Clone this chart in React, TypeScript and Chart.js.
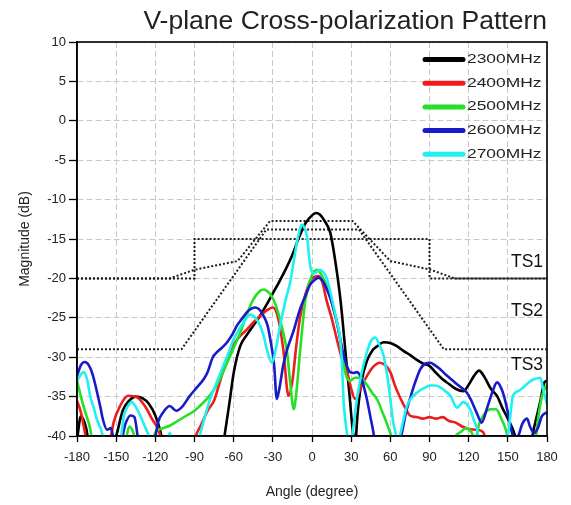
import React, { useEffect, useRef } from 'react';
import { Chart, registerables } from 'chart.js';

Chart.register(...registerables);

const titleText = 'V-plane Cross-polarization Pattern';
const xTitle = 'Angle (degree)';
const yTitle = 'Magnitude (dB)';
const xTickValues = [-180, -150, -120, -90, -60, -30, 0, 30, 60, 90, 120, 150, 180];
const yTickValues = [-40, -35, -30, -25, -20, -15, -10, -5, 0, 5, 10];

const seriesNames = ['2300MHz', '2400MHz', '2500MHz', '2600MHz', '2700MHz'];
const seriesColors = ['#000000', '#ee1c1c', '#25e025', '#1a1ac8', '#20f0f0'];
const maskNames = ['TS1', 'TS2', 'TS3'];

const angles2300 = [-180, -177, -173, -170, -160, -150, -145, -140, -135, -130, -125, -120, -116, -112, -90, -70, -67, -63, -60, -55, -50, -45, -40, -35, -30, -25, -20, -15, -10, -5, 0, 3, 6, 10, 14, 18, 22, 26, 29, 31, 33, 35, 38, 42, 46, 50, 55, 60, 65, 70, 75, 80, 85, 90, 95, 100, 105, 110, 116, 120, 124, 128, 132, 137, 142, 146, 150, 155, 158, 166, 170, 175, 178, 180];
const values2300 = [-40.5, -37.5, -39, -42, -44, -40, -36.8, -35.5, -35, -35.2, -35.9, -37.4, -39.5, -43, -44, -43, -40, -35.5, -32, -28.6, -27.2, -26, -24.8, -23.4, -21.9, -20.4, -18.8, -17, -14.8, -13, -12, -11.7, -11.9, -12.8, -14.2, -18, -23, -30, -35.3, -39, -41, -37, -33, -30.5, -29.2, -28.6, -28.1, -28.2, -28.6, -29.2, -29.7, -30.3, -30.8, -31.1, -32, -32.8, -33.4, -34, -34.3, -33.5, -32.4, -31.7, -32.5, -34, -35, -36.5, -37.8, -39.7, -42, -42, -39, -35.5, -33.2, -33];

const angles2400 = [-180, -177, -174, -171, -160, -155, -152, -147, -141, -134, -128, -122, -117, -114, -100, -92, -89, -85, -80, -75, -70, -65, -60, -55, -50, -45, -40, -35, -30, -26, -22, -18, -15, -12, -9, -5, -1, 5, 8, 11, 15, 19, 23, 27, 30, 33, 37, 42, 47, 52, 56, 60, 64, 68, 72, 75, 80, 85, 90, 95, 100, 105, 110, 115, 120, 125, 131, 134, 140, 180];
const values2400 = [-35.5, -37, -39.5, -42, -44, -41, -38.3, -36.2, -34.9, -35.1, -36.2, -38, -39.5, -42, -44, -42, -40, -38.6, -36.8, -35.5, -32.8, -30.3, -28.4, -27.3, -26.5, -25.6, -24.8, -24.1, -23.7, -25, -29, -34.9, -33, -28.5, -24.8, -22, -20.2, -19.7, -20.5, -22.7, -25, -27.7, -30.2, -32, -34, -35.3, -34, -32.4, -31.2, -30.7, -31, -31.9, -33.8, -35.3, -36.6, -37.4, -37.6, -37.8, -37.6, -37.8, -37.6, -38.1, -38.3, -38.8, -39.1, -39.2, -39.5, -41, -44, -44];

const angles2500 = [-180, -177, -174, -170, -167, -150, -143, -140, -137, -133, -124, -120, -116, -109, -102, -96, -90, -86, -80, -75, -70, -65, -60, -55, -50, -45, -40, -37, -33, -29.5, -26, -22, -19, -16.7, -14, -12, -9, -5, 0, 4, 8, 11.4, 16.5, 21.6, 25.4, 29, 33, 37, 42, 46, 50, 54, 58, 61, 64, 100, 106, 110, 114, 118, 122, 125, 128, 132, 137, 141, 145, 149, 152, 170, 173, 176, 180];
const values2500 = [-33, -35, -36.8, -39, -42, -44, -41, -38.8, -39.5, -42, -42, -39.5, -39.1, -38.7, -38, -37.4, -36.8, -36.2, -35.2, -34.1, -32.6, -30.7, -28.8, -26.9, -24.6, -22.7, -21.6, -21.4, -21.8, -22.7, -24.3, -26.9, -29.5, -33.2, -36.6, -34.5, -29, -22.7, -19.6, -18.9, -19.8, -21, -23.9, -27.7, -31.9, -33, -32.6, -32.6, -33.5, -34.5, -35.4, -37, -38.7, -40.2, -43, -44, -42, -40, -39.5, -39, -39.5, -40.5, -38.5, -37.2, -36.6, -36.6, -37.8, -39.5, -42, -42, -38, -35, -33.5];

const angles2600 = [-180, -177, -174, -171, -168, -165, -162, -160, -157, -154, -151, -147, -143, -139, -136, -133, -128, -121, -118, -114, -109, -104, -99, -94, -88, -83, -80, -76, -73, -69, -65, -61, -57.5, -54, -50, -46, -43.5, -40, -37, -34, -32, -29, -27, -25, -22, -19, -14, -9, -5, -1.4, 2, 5, 8, 11.4, 14, 16.5, 19, 21.6, 24, 26.7, 29.3, 32, 34.4, 38, 42, 45, 47, 49, 65, 69, 72, 75, 79, 83, 87, 90.6, 94, 98, 103, 108, 113, 118.7, 122, 126, 130, 134, 138, 141.7, 144, 147, 150, 152, 155, 158, 161, 164.7, 167, 170, 173, 176, 180];
const values2600 = [-32.4, -31, -30.6, -31, -32.2, -34.2, -36.4, -38, -39.2, -39, -41, -41, -38.5, -37.4, -37.6, -40.5, -42, -41, -38.3, -37, -36.2, -36.8, -36.2, -35, -33.8, -32.8, -31.9, -30, -29.4, -28.8, -28.1, -27.1, -26, -25.2, -24.3, -23.8, -23.7, -24, -24.8, -26, -27.7, -31, -35.3, -34, -31, -29, -26.6, -23.8, -22.2, -20.8, -20.2, -19.9, -20.3, -21.4, -22.5, -23.9, -25.5, -27.7, -29.6, -31.1, -31.9, -32, -31.9, -32.8, -35.3, -37.8, -39.5, -42, -42, -39.5, -37, -35.3, -33.2, -31.5, -30.8, -30.7, -31, -31.5, -32.3, -33, -33.7, -34.5, -35.5, -37, -38.3, -36.5, -34.5, -33.2, -33.6, -34.9, -37, -38.7, -40.5, -40, -38.5, -37.8, -38.8, -39.6, -39, -37.5, -37];

const angles2700 = [-180, -177, -175, -172, -170, -167, -165, -161, -158, -150, -147, -144, -141, -138, -135, -131.6, -128, -125.5, -122, -112, -109, -105, -90, -86, -82, -78, -73, -68, -64, -60, -56, -52.5, -47.4, -44, -39.7, -37, -34.6, -30.7, -28, -24.4, -20, -16.7, -14, -11.6, -9, -7.7, -6, -3.9, -1.4, 1, 3.5, 6.3, 9, 11.4, 14, 16.5, 19, 21.6, 23, 24.1, 25.5, 26.7, 28, 30, 32, 34.4, 38, 42, 45, 48.4, 51, 54.8, 57.5, 60, 62, 63.8, 65.5, 68, 70, 72.7, 76, 80.4, 85, 90.6, 94, 98, 102, 106, 111, 116, 121, 124, 126.4, 129, 145, 150, 154, 158, 162, 166, 170, 175, 177, 180];
const values2700 = [-33, -32.2, -31.9, -33, -34.9, -36.5, -37.8, -39.5, -42, -43, -41, -37.4, -36.2, -35.7, -36.3, -37.4, -38.8, -39.8, -42, -42, -39.6, -42, -43, -40, -37.5, -35.3, -33.2, -31.1, -29.5, -27.7, -26.5, -25.6, -24.6, -24.9, -26, -27.3, -29, -30.7, -29.2, -26, -22.6, -20.5, -17.8, -15.5, -13.6, -13.2, -13.5, -14.6, -18.4, -19.4, -19.2, -18.9, -19.3, -20, -21.7, -23.5, -25.5, -27.7, -31, -35.3, -38, -39.5, -41.5, -41, -38.5, -35.3, -32, -29.4, -28, -27.5, -28.2, -29.8, -32.2, -35.3, -38, -39.5, -41, -39.5, -38, -36.2, -35.2, -34.5, -34, -33.6, -33.6, -33.8, -34.3, -34.9, -36.4, -35.7, -36.6, -38, -39.1, -42, -42, -40, -34.9, -34.3, -33.8, -33.2, -32.8, -32.6, -34, -36];

const ts1Angles = [-180, -90, -90, 90, 90, 180];
const ts1Values = [-20, -20, -15, -15, -20, -20];
const ts2Angles = [-180, -109, -90, -57, -32, 31, 60, 91, 109, 180];
const ts2Values = [-20, -20, -18.9, -17.8, -12.7, -12.7, -17.8, -18.9, -20, -20];
const ts3Angles = [-180, -100, -35, 36, 101, 180];
const ts3Values = [-29, -29, -13.8, -13.8, -29, -29];

const FONT = '"Liberation Sans", Arial, Helvetica, sans-serif';

const overlayPlugin = {
  id: 'overlay',
  afterDatasetsDraw(chart: any) {
    const { ctx, chartArea: a, scales } = chart;
    ctx.save();
    ctx.setLineDash([]);
    ctx.strokeStyle = '#000';
    ctx.lineWidth = 1.6;
    ctx.strokeRect(a.left, a.top, a.right - a.left, a.bottom - a.top);

    // mask labels
    const levels = [-18, -24.1, -31];
    ctx.font = '17.5px ' + FONT;
    ctx.fillStyle = '#111';
    ctx.textAlign = 'right';
    ctx.textBaseline = 'middle';
    maskNames.forEach((name, i) => {
      ctx.fillText(name, scales.x.getPixelForValue(177), scales.y.getPixelForValue(levels[i]));
    });

    // legend
    seriesNames.forEach((name, i) => {
      const y = a.top + 17.5 + i * 23.7;
      ctx.strokeStyle = seriesColors[i];
      ctx.lineWidth = 5;
      ctx.lineCap = 'round';
      ctx.beginPath();
      ctx.moveTo(a.right - 122, y);
      ctx.lineTo(a.right - 84, y);
      ctx.stroke();
      ctx.save();
      ctx.translate(a.right - 80, y);
      ctx.scale(1.45, 1);
      ctx.font = '12px ' + FONT;
      ctx.fillStyle = '#222';
      ctx.textAlign = 'left';
      ctx.textBaseline = 'middle';
      ctx.fillText(name, 0, 0);
      ctx.restore();
    });
    ctx.restore();
  },
};

export default function App() {
  const ref = useRef<HTMLCanvasElement>(null);
  useEffect(() => {
    const canvas = ref.current;
    if (!canvas) return;
    const mk = (xs: number[], ys: number[]) => xs.map((x, i) => ({ x, y: ys[i] }));
    const series = [
      [angles2300, values2300],
      [angles2400, values2400],
      [angles2500, values2500],
      [angles2600, values2600],
      [angles2700, values2700],
    ];
    const masks = [
      [ts1Angles, ts1Values],
      [ts2Angles, ts2Values],
      [ts3Angles, ts3Values],
    ];
    const datasets: any[] = [
      ...series.map(([xs, ys], i) => ({
        label: seriesNames[i],
        data: mk(xs as number[], ys as number[]),
        borderColor: seriesColors[i],
        backgroundColor: seriesColors[i],
        borderWidth: 2.6,
        pointRadius: 0,
        cubicInterpolationMode: 'monotone',
        fill: false,
        order: 5 - i,
      })),
      ...masks.map(([xs, ys], i) => ({
        label: maskNames[i],
        data: mk(xs as number[], ys as number[]),
        borderColor: '#1e1e1e',
        borderWidth: 2,
        borderDash: [2, 2],
        pointRadius: 0,
        tension: 0,
        fill: false,
        order: 10,
      })),
    ];
    const gridCommon = {
      color: '#c8c8c8',
      lineWidth: 1,
      tickColor: '#000',
      tickWidth: 1.3,
    };
    const chart = new Chart(canvas, {
      type: 'line',
      data: { datasets },
      options: {
        responsive: false,
        animation: false,
        devicePixelRatio: 1,
        layout: { padding: { top: 0, right: 24, bottom: 0, left: 0 } },
        plugins: {
          legend: { display: false },
          tooltip: { enabled: false },
          title: {
            display: true,
            text: titleText,
            align: 'end',
            color: '#222',
            font: { family: FONT, size: 26.5, weight: 'normal', lineHeight: 1 },
            padding: { top: 8, bottom: 7.5 },
          },
        },
        scales: {
          x: {
            type: 'linear',
            min: -180,
            max: 180,
            afterFit: (s: any) => { s.height = 69; },
            afterBuildTicks: (s: any) => { s.ticks = xTickValues.map((v) => ({ value: v })); },
            ticks: { color: '#222', font: { family: FONT, size: 13 }, padding: 8, maxRotation: 0, autoSkip: false },
            grid: { ...gridCommon, tickLength: 6 },
            border: { display: true, color: '#000', width: 1.5, dash: [6, 3] },
            title: { display: true, text: xTitle, color: '#222', font: { family: FONT, size: 14 }, padding: { top: 0, bottom: 4 } },
          },
          y: {
            type: 'linear',
            min: -40,
            max: 10,
            afterFit: (s: any) => { s.width = 77; },
            afterBuildTicks: (s: any) => { s.ticks = yTickValues.map((v) => ({ value: v })); },
            ticks: { color: '#222', font: { family: FONT, size: 13 }, padding: 3 },
            grid: { ...gridCommon, tickLength: 8 },
            border: { display: true, color: '#000', width: 1.5, dash: [6, 3] },
            title: { display: true, text: yTitle, color: '#222', font: { family: FONT, size: 14 }, padding: { top: 17, bottom: 0 } },
          },
        },
      } as any,
      plugins: [overlayPlugin],
    });
    return () => chart.destroy();
  }, []);
  return (
    <div style={{ position: 'fixed', left: 0, top: 0, width: 571, height: 505, background: '#fff' }}>
      <canvas ref={ref} width={571} height={505} style={{ display: 'block' }} />
    </div>
  );
}
